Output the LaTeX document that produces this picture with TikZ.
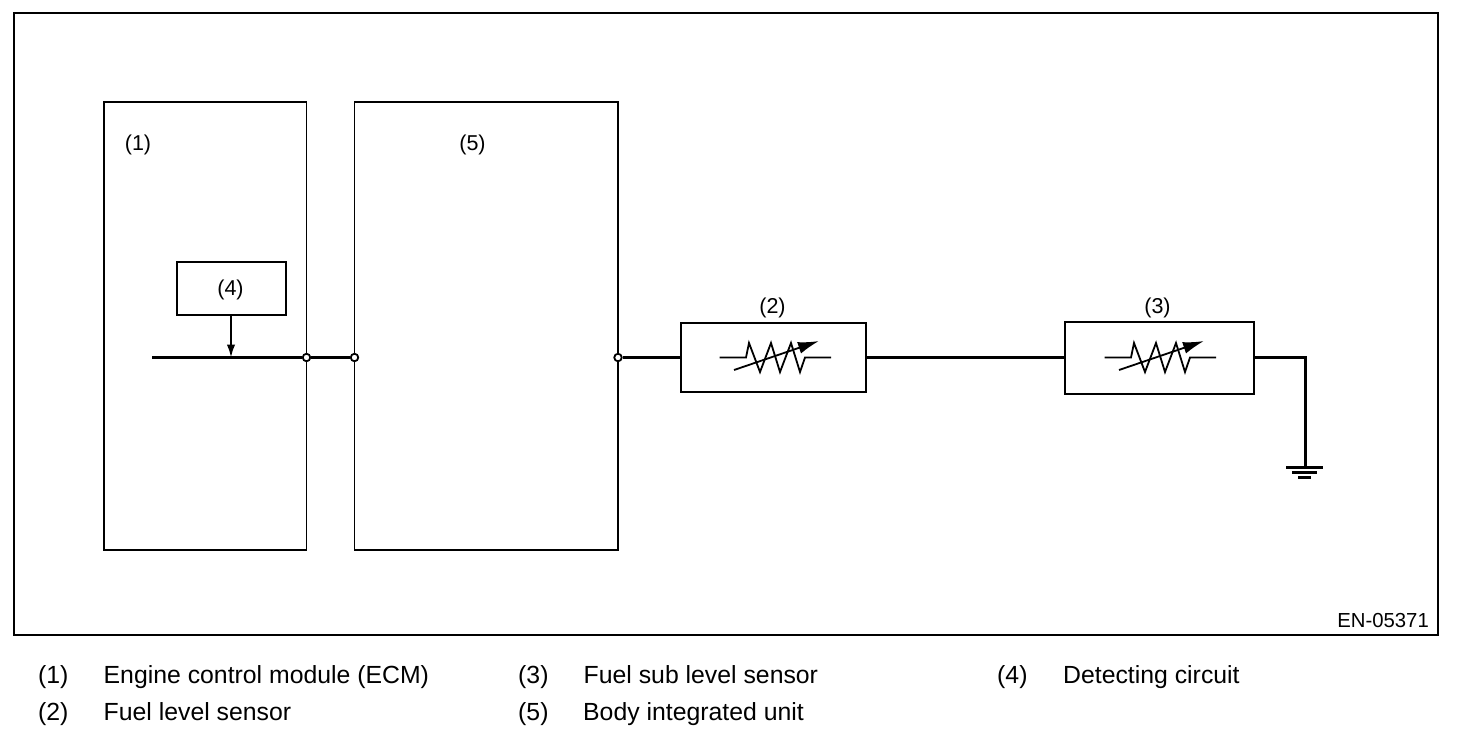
\documentclass[tikz,border=0pt]{standalone}
\usepackage{fontspec}
\setmainfont{Liberation Sans}
\usetikzlibrary{arrows.meta}
\tikzset{
  x=1pt,y=-1pt,
  thinbox/.style={draw=black,line width=1.6pt,fill=none,inner sep=0pt,outer sep=0pt},
  wire/.style={line width=3pt,draw=black},
  port/.style={circle,draw=black,fill=white,line width=1.8pt,minimum size=7.5pt,inner sep=0pt},
  lab/.style={font=\fontsize{21.5}{24}\selectfont,inner sep=0pt,text=black},
  leg/.style={font=\fontsize{24.8}{28}\selectfont,inner sep=0pt,anchor=base west,text=black},
}
\newcommand{\rbox}[6][]{\node[thinbox,#1,anchor=north west,minimum width=#5pt,minimum height=#6pt] (#2) at (#3,#4) {};}
\newcommand{\resistorsym}[1]{%
  \begin{scope}[shift={(#1,0)}]
    \draw[line width=1.8pt,line join=miter] (719.5,357.5) -- (746,357.5) -- (749,343) -- (760,372) -- (771,343) -- (780,372) -- (791,343) -- (800,372) -- (805,357.5) -- (831,357.5);
    \draw[line width=1.8pt,-{Latex[length=21pt,width=12pt]}] (734,370) -- (819,341);
  \end{scope}}
\begin{document}
\begin{tikzpicture}
\useasboundingbox (0,0) rectangle (1472,736);
\fill[white] (0,0) rectangle (1472,736);
\rbox[line width=2pt]{frame}{14}{13}{1424}{622}
\rbox{ecm}{104}{102}{202.5}{448}
\rbox{biu}{354.5}{102}{263.5}{448}
\rbox[line width=2pt]{det}{176.5}{262}{109.5}{53}
\rbox[line width=2pt]{fls}{681}{323}{185}{69}
\rbox[line width=2pt]{fsl}{1065}{322}{189}{72}

\coordinate (start) at (152,357.5);
\coordinate (tap) at (231,357.5);
\coordinate (corner) at (1305,357.5);
\coordinate (gnd) at (1305,467);

\node[port] (p1) at (306.5,357.5) {};
\node[port] (p2) at (354.5,357.5) {};
\node[port] (p3) at (618,357.5) {};

\draw[wire] (start) -- (p1);
\draw[wire] (p1) -- (p2);
\draw[wire] (p3) -- (fls.west |- p3);
\draw[wire] (fls.east |- p3) -- (fsl.west |- p3);
\draw[wire] (fsl.east |- corner) -- (corner) -- (gnd);
\draw[line width=2pt,-{Latex[length=13pt,width=8.5pt]}] (det.south -| tap) -- (tap);

\draw[line width=3pt] (1286,467.5) -- (1323,467.5);
\draw[line width=3pt] (1292,472.5) -- (1317,472.5);
\draw[line width=3pt] (1298,477.5) -- (1311,477.5);

\resistorsym{0}
\resistorsym{385}

\node[lab] (l1) at (138,144.5) {(1)};
\node[lab] (l5) at (472.5,144.5) {(5)};
\node[lab] (l4) at (230.5,290) {(4)};
\node[lab] (l2) at (772.5,308) {(2)};
\node[lab] (l3) at (1157.5,308) {(3)};
\node[lab,anchor=base east,font=\fontsize{20.3}{24}\selectfont] (code) at (1429,627) {EN-05371};

\node[leg] (a1) at (38,683) {(1)};
\node[leg] (b1) at (103.5,683) {Engine control module (ECM)};
\node[leg] (a2) at (38,720) {(2)};
\node[leg] (b2) at (103.5,720) {Fuel level sensor};
\node[leg] (a3) at (518,683) {(3)};
\node[leg] (b3) at (583.5,683) {Fuel sub level sensor};
\node[leg] (a5) at (518,720) {(5)};
\node[leg] (b5) at (583,720) {Body integrated unit};
\node[leg] (a4) at (997,683) {(4)};
\node[leg] (b4) at (1063,683) {Detecting circuit};
\end{tikzpicture}
\end{document}
